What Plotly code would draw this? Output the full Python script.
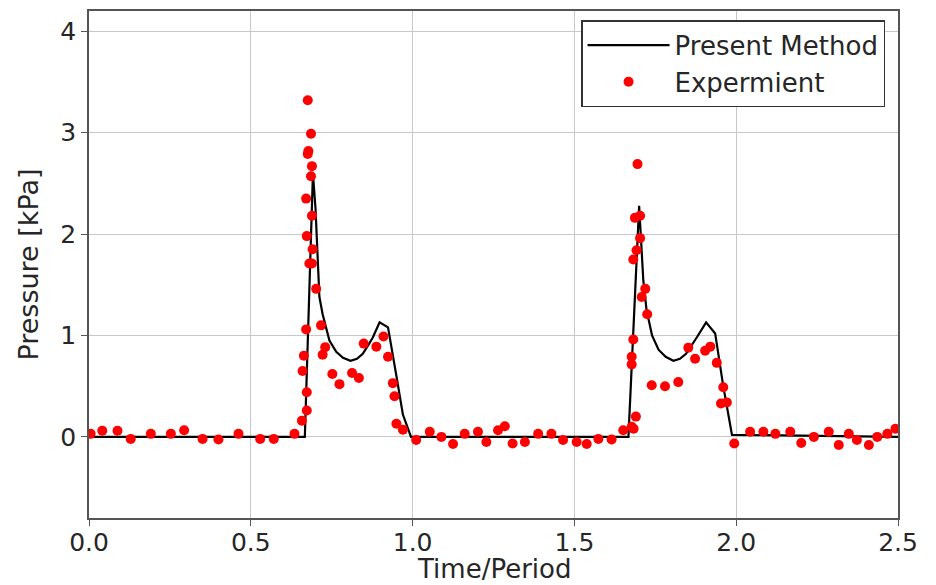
import plotly.graph_objects as go

# Present Method (simulation) curve
line_t = [0.0, 0.667, 0.692, 0.700, 0.712, 0.722, 0.743, 0.764, 0.785, 0.808, 0.828, 0.846, 0.862,
          0.877, 0.898, 0.924, 0.950, 0.970, 0.995,
          1.667, 1.700, 1.713, 1.723, 1.740, 1.760, 1.782, 1.806, 1.826, 1.845, 1.862, 1.880,
          1.907, 1.935, 1.960, 1.987, 2.5]
line_p = [0.0, 0.0, 2.60, 2.25, 1.38, 1.21, 0.95, 0.84, 0.78, 0.75, 0.77, 0.82, 0.90,
          0.98, 1.13, 1.08, 0.60, 0.22, 0.0,
          0.0, 2.28, 1.54, 1.25, 1.00, 0.86, 0.79, 0.75, 0.77, 0.82, 0.90, 0.99,
          1.13, 1.02, 0.50, 0.02, 0.0]

# Experimental data
exp_t = [0.005, 0.041, 0.088, 0.129, 0.191, 0.253, 0.294, 0.351, 0.400, 0.462, 0.529, 0.571, 0.635,
         0.658, 0.673, 0.673, 0.660, 0.664, 0.671, 0.681, 0.689, 0.691, 0.673, 0.689, 0.671, 0.686,
         0.689, 0.676, 0.678, 0.686, 0.676, 0.702, 0.717, 0.730, 0.722, 0.752, 0.774, 0.813, 0.834,
         0.849, 0.888, 0.910, 0.924, 0.939, 0.944, 0.950, 0.970,
         1.011, 1.053, 1.089, 1.125, 1.161, 1.202, 1.228, 1.264, 1.285, 1.309, 1.347, 1.388, 1.429,
         1.465, 1.507, 1.538, 1.574, 1.615, 1.651,
         1.677, 1.683, 1.690, 1.677, 1.677, 1.682, 1.682, 1.692, 1.703, 1.687, 1.703, 1.695, 1.719,
         1.708, 1.725, 1.739, 1.780, 1.821, 1.852, 1.873, 1.904, 1.920, 1.940, 1.960, 1.953, 1.971,
         1.994,
         2.043, 2.084, 2.121, 2.167, 2.201, 2.240, 2.286, 2.317, 2.348, 2.373, 2.410, 2.436, 2.467,
         2.492]
exp_p = [0.03, 0.06, 0.06, -0.02, 0.03, 0.03, 0.065, -0.02, -0.025, 0.03, -0.02, -0.02, 0.03,
         0.16, 0.26, 0.44, 0.65, 0.80, 1.06, 1.71, 1.71, 1.85, 1.98, 2.18, 2.35, 2.57,
         2.67, 2.79, 2.82, 2.99, 3.32, 1.46, 1.10, 0.885, 0.81, 0.62, 0.52, 0.63, 0.58,
         0.92, 0.89, 0.99, 0.79, 0.53, 0.40, 0.13, 0.07,
         -0.03, 0.05, 0.0, -0.07, 0.03, 0.05, -0.05, 0.066, 0.105, -0.065, -0.05, 0.03, 0.03,
         -0.03, -0.05, -0.07, -0.02, -0.025, 0.065,
         0.10, 0.08, 0.20, 0.715, 0.79, 0.96, 1.75, 1.84, 1.96, 2.16, 2.18, 2.69, 1.46,
         1.38, 1.21, 0.51, 0.50, 0.54, 0.88, 0.77, 0.85, 0.89, 0.73, 0.49, 0.33, 0.34,
         -0.065,
         0.05, 0.05, 0.03, 0.05, -0.06, 0.0, 0.05, -0.08, 0.03, -0.03, -0.08, 0.0, 0.03,
         0.08]

x_ticks = [0.0, 0.5, 1.0, 1.5, 2.0, 2.5]
x_tick_labels = ["0.0", "0.5", "1.0", "1.5", "2.0", "2.5"]
y_ticks = [0, 1, 2, 3, 4]
y_tick_labels = ["0", "1", "2", "3", "4"]

font_family = "DejaVu Sans"
text_color = "#262626"

fig = go.Figure()
fig.add_trace(go.Scatter(x=line_t, y=line_p, mode="lines", name="Present Method",
                         line=dict(color="black", width=2.2)))
fig.add_trace(go.Scatter(x=exp_t, y=exp_p, mode="markers", name="Expermient",
                         marker=dict(color="#ff0000", size=10, line=dict(width=0))))

axis_common = dict(
    showgrid=True, gridcolor="#c8c8c8", gridwidth=1,
    showline=True, linecolor="#555555", linewidth=1.5, mirror=True,
    ticks="outside", ticklen=6, tickwidth=1.2, tickcolor="#555555",
    tickfont=dict(family=font_family, size=25, color=text_color),
    zeroline=False,
)

fig.update_xaxes(range=[0, 2.5], tickvals=x_ticks, ticktext=x_tick_labels,
                 ticklabelstandoff=-5, **axis_common)
fig.update_yaxes(range=[-0.8, 4.2], tickvals=y_ticks, ticktext=y_tick_labels,
                 title=dict(text="Pressure [kPa]", font=dict(family=font_family, size=27, color=text_color),
                            standoff=14),
                 **axis_common)

# x-axis title as annotation (placed just below tick labels)
fig.add_annotation(text="Time/Period", x=0.5, y=0, xref="paper", yref="paper",
                   xanchor="center", yanchor="middle", yshift=-51, showarrow=False,
                   font=dict(family=font_family, size=26, color=text_color))

fig.update_layout(
    width=936, height=585,
    margin=dict(l=81, r=46, t=1, b=75),
    paper_bgcolor="white", plot_bgcolor="white",
    font=dict(family=font_family, color=text_color),
    legend=dict(x=0.984, y=0.982, xanchor="right", yanchor="top",
                bgcolor="white", bordercolor="#333333", borderwidth=1.5,
                font=dict(family=font_family, size=26, color=text_color),
                itemwidth=82, tracegroupgap=0),
    showlegend=True,
)

fig.write_html("out.html")
